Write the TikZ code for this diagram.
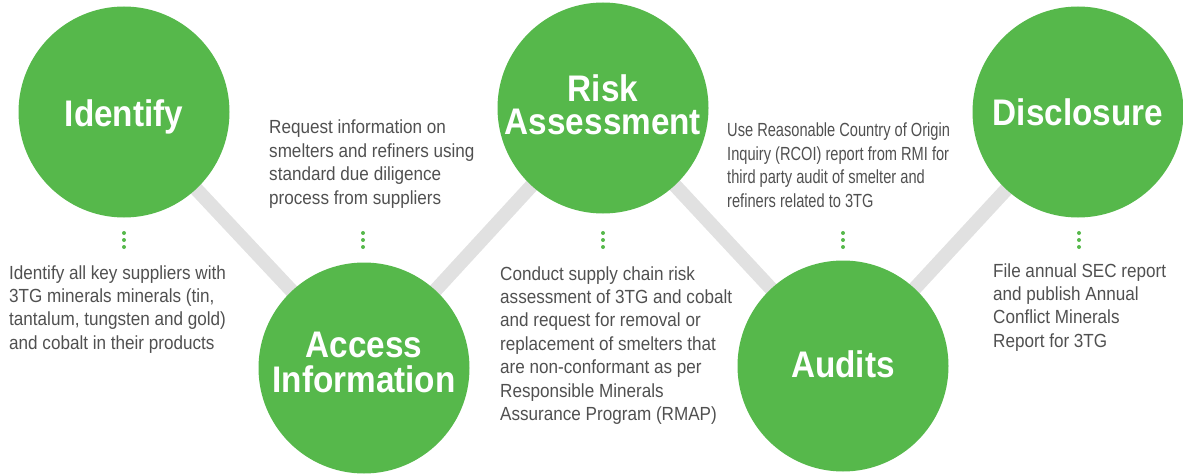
\documentclass[tikz,border=0pt]{standalone}
\usepackage{fontspec}
\setmainfont{Liberation Sans}
\newfontfamily\bodyfont[FakeStretch=0.9]{Liberation Sans}
\newfontfamily\condfont[FakeStretch=0.77]{Liberation Sans}
\newfontfamily\titlefont[FakeStretch=0.9]{Liberation Sans}
\usetikzlibrary{backgrounds}
\definecolor{stepgreen}{HTML}{56B84B}
\definecolor{linkgray}{HTML}{E1E1E1}
\definecolor{txtgray}{HTML}{505050}
\newcommand\blines[1]{\vtop{\baselineskip=23.4pt\lineskiplimit=-20pt\lineskip=0pt #1}}
\newcommand\tlines[2]{\vtop{\baselineskip=#1\lineskiplimit=-30pt\lineskip=0pt\halign{\hfil##\hfil\cr #2\cr}}}
\tikzset{
  stepcircle/.style={circle, fill=stepgreen, draw=none, minimum size=211pt, inner sep=0pt},
  steptitle/.style={anchor=base, inner sep=0pt, text=white, font=\titlefont\bfseries\fontsize{37}{40}\selectfont},
  desc/.style={anchor=base west, inner sep=0pt, text=txtgray, font=\bodyfont\fontsize{19}{23.4}\selectfont},
  conddesc/.style={desc, font=\condfont\fontsize{19}{23.4}\selectfont},
  link/.style={draw=linkgray, line width=14pt},
  dotmark/.style={fill=stepgreen}
}
\begin{document}
\begin{tikzpicture}[x=1pt,y=-1pt]
\useasboundingbox (0,0) rectangle (1183,476);
% circles
\node[stepcircle] (c1) at (124,112) {};
\node[stepcircle] (c2) at (364,368) {};
\node[stepcircle] (c3) at (603,108) {};
\node[stepcircle] (c4) at (843,366) {};
\node[stepcircle] (c5) at (1078,112) {};
% connectors behind the circles
\begin{pgfonlayer}{background}
\draw[link] (c1.center) -- (c2.center);
\draw[link] (c2.center) -- (c3.center);
\draw[link] (c3.center) -- (c4.center);
\draw[link] (c4.center) -- (c5.center);
\end{pgfonlayer}
% titles
\node[steptitle] (t1) at (124,127) {Identify};
\node[steptitle] (t2) at (364,357) {\tlines{35pt}{Access\cr Information}};
\node[steptitle] (t3) at (603,102) {\tlines{33pt}{Risk\cr Assessment}};
\node[steptitle] (t4) at (843,377) {Audits};
\node[steptitle] (t5) at (1078,126) {Disclosure};
% dotted markers
\foreach \x in {124,363,603,843,1079}{
  \foreach \y in {233,240,247}{
    \fill[dotmark] (\x,\y) circle (2pt);
  }
}
% descriptions
\node[desc] (d1) at (9,279) {\blines{\hbox{Identify all key suppliers with}\hbox{3TG minerals minerals (tin,}\hbox{tantalum, tungsten and gold)}\hbox{and cobalt in their products}}};
\node[desc] (d2) at (269,134) {\blines{\hbox{Request information on}\hbox{smelters and refiners using}\hbox{standard due diligence}\hbox{process from suppliers}}};
\node[desc] (d3) at (500,280) {\blines{\hbox{Conduct supply chain risk}\hbox{assessment of 3TG and cobalt}\hbox{and request for removal or}\hbox{replacement of smelters that}\hbox{are non-conformant as per}\hbox{Responsible Minerals}\hbox{Assurance Program (RMAP)}}};
\node[conddesc] (d4) at (727,137) {\blines{\hbox{Use Reasonable Country of Origin}\hbox{Inquiry (RCOI) report from RMI for}\hbox{third party audit of smelter and}\hbox{refiners related to 3TG}}};
\node[desc] (d5) at (993,277) {\blines{\hbox{File annual SEC report}\hbox{and publish Annual}\hbox{Conflict Minerals}\hbox{Report for 3TG}}};
\end{tikzpicture}
\end{document}
